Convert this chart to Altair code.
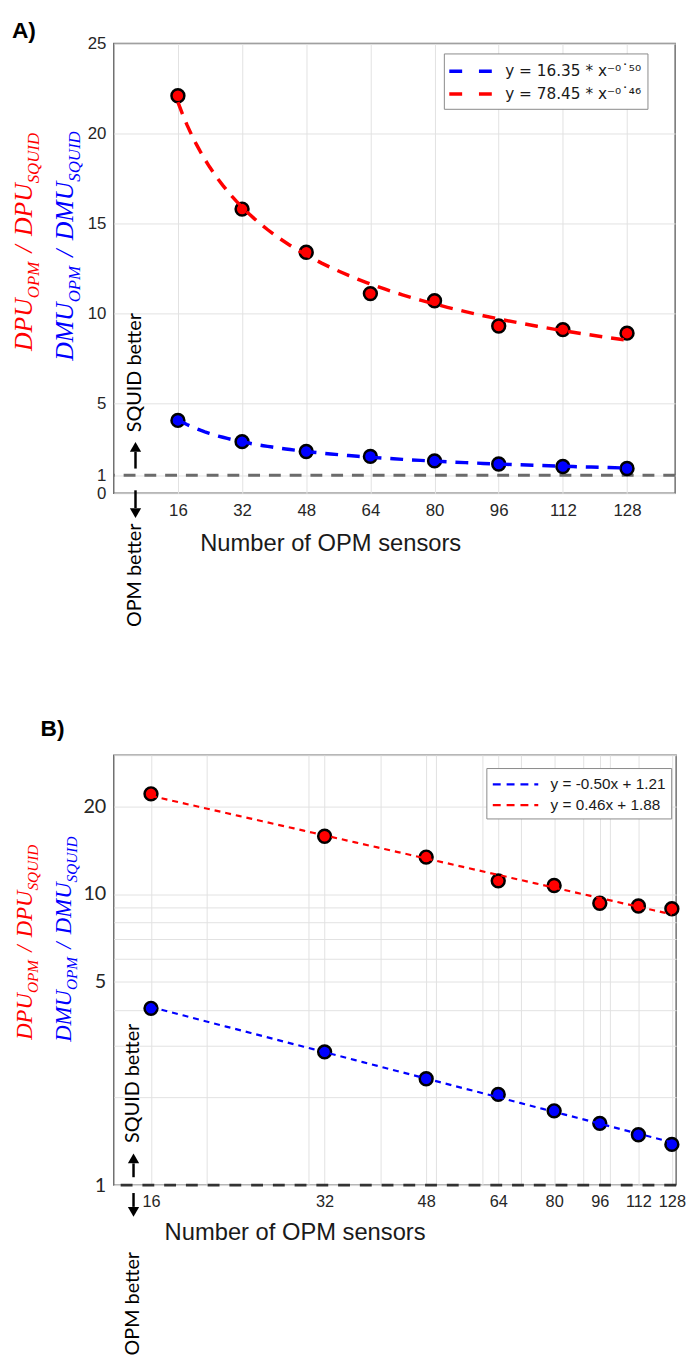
import altair as alt
import pandas as pd

# ---------------- data ----------------
sensors = [16, 32, 48, 64, 80, 96, 112, 128]
dmu_ratio = [4.05, 2.87, 2.32, 2.05, 1.80, 1.63, 1.49, 1.38]
dpu_ratio = [22.1, 15.8, 13.4, 11.1, 10.7, 9.3, 9.1, 8.9]
measures = ["DMU", "DPU"]
fit_labels_a = ["y = 16.35 * x⁻⁰˙⁵⁰", "y = 78.45 * x⁻⁰˙⁴⁶"]
fit_labels_b = ["y = -0.50x + 1.21", "y = 0.46x + 1.88"]
parity_level = 1
y_ticks_a = [0, 1, 5, 10, 15, 20, 25]
y_labels_b = [1, 5, 10, 20]
y_grid_b = [1, 2, 3, 4, 5, 6, 7, 8, 9, 10, 20, 30]
x_grid_b = [16, 20, 30, 32, 40, 48, 50, 60, 64, 70, 80, 90, 96, 100, 112, 128]

rows = []
for m, vals, fa, fb in zip(measures, [dmu_ratio, dpu_ratio], fit_labels_a, fit_labels_b):
    for n, v in zip(sensors, vals):
        rows.append({"n": n, "ratio": v, "measure": m, "fitA": fa, "fitB": fb})
df = pd.DataFrame(rows)

# ---------------- styles ----------------
BLUE, RED = "#0000ff", "#ff0000"
COLORS = [BLUE, RED]
SANS = "Liberation Sans"
ONE = pd.DataFrame({"k": [0]})

TIMES_ITALIC = {"D": 722, "P": 611, "U": 722, "M": 833, "O": 722, "S": 500,
                "Q": 722, "I": 333, "/": 278, " ": 250}


def text_width(s, size):
    return sum(TIMES_ITALIC[c] for c in s) * size / 1000.0


def txt(x, y, s, **kw):
    return alt.Chart(ONE).mark_text(text=s, **kw).encode(x=alt.value(x), y=alt.value(y))


def ratio_title(main, color, xc, y_bottom, M, S):
    gap = 0.36 * M
    pieces = [(main, M, False, 0), ("OPM", S, True, gap), ("/", M, False, gap),
              (main, M, False, 0), ("SQUID", S, True, 0)]
    shift = 0.27 * M
    bx = xc + (0.66 * M - shift) / 2
    out = []
    y = y_bottom
    for s, size, sub, after in pieces:
        out.append(txt(bx + (shift if sub else 0), y, s, font="Liberation Serif",
                       fontStyle="italic", fontSize=size, color=color, angle=270,
                       align="left", baseline="alphabetic"))
        y -= text_width(s, size) + after
    return out


def arrow(x, y_tail, y_tip, up):
    head_h = 10
    shaft_end = y_tip + head_h if up else y_tip - head_h
    shaft = alt.Chart(ONE).mark_rule(color="black", strokeWidth=2.5).encode(
        x=alt.value(x), y=alt.value(y_tail), y2=alt.value(shaft_end))
    head = alt.Chart(ONE).mark_point(shape="triangle-up" if up else "triangle-down",
                                     filled=True, color="black", size=130, opacity=1).encode(
        x=alt.value(x), y=alt.value(y_tip + 5 if up else y_tip - 5))
    return [shaft, head]


def better_notes(x, squid_y, up_tail, up_tip, down_tail, down_tip, opm_y):
    out = [txt(x, squid_y, "SQUID better", font="Lato", fontSize=20, angle=270,
               align="center", baseline="middle", color="black"),
           txt(x, opm_y, "OPM better", font="Lato", fontSize=20, angle=270,
               align="center", baseline="middle", color="black")]
    out += arrow(x, up_tail, up_tip, True)
    out += arrow(x, down_tail, down_tip, False)
    return out


axis_common = dict(grid=True, gridColor="#e2e2e2", gridWidth=1, ticks=False, domain=False,
                   labelColor="#262626", labelOverlap=False, labelFlush=False)

# ---------------- panel A (linear) ----------------
W_A, H_A = 568, 455
xA = alt.Scale(domain=[0, 140], nice=False, zero=False)
yA = alt.Scale(domain=[0, 25], nice=False, zero=False)
x_axis_a = alt.Axis(values=sensors, labelFont=SANS, labelFontSize=17, labelPadding=9,
                    title="Number of OPM sensors", titleFont=SANS, titleFontSize=24,
                    titleFontWeight="normal", titleColor="#1a1a1a", titleX=219, titleY=51,
                    titleAlign="center", titleBaseline="middle", **axis_common)
y_axis_a = alt.Axis(values=y_ticks_a, labelFont=SANS, labelFontSize=17, labelPadding=8,
                    title=None, **axis_common)

legend_a = alt.Legend(title=None, orient="none", legendX=334, legendY=10,
                      symbolType="M-2.15,0H2.15", symbolSize=400, symbolStrokeWidth=3.5,
                      symbolDash=[13, 17], symbolOffset=9, labelFont="DejaVu Sans",
                      labelFontSize=15.5, labelColor="#1a1a1a", labelOffset=23,
                      fillColor="white", strokeColor="#8a8a8a", padding=6, rowPadding=2,
                      labelLimit=400)

parity_a = alt.Chart(ONE).mark_rule(color="#6b6b6b", strokeWidth=3, strokeDash=[12, 9]).encode(
    y=alt.datum(parity_level, scale=yA))

pts_a = alt.Chart(df).mark_circle(size=170, stroke="black", strokeWidth=2.5, opacity=1).encode(
    x=alt.X("n:Q", scale=xA, axis=x_axis_a),
    y=alt.Y("ratio:Q", scale=yA, axis=y_axis_a),
    fill=alt.Fill("measure:N", scale=alt.Scale(domain=measures, range=COLORS), legend=None))

fit_a = alt.Chart(df).transform_regression(
    "n", "ratio", method="pow", groupby=["fitA"], extent=[16, 128]
).mark_line(strokeDash=[13, 9], strokeWidth=3.5).encode(
    x=alt.X("n:Q", scale=xA, axis=x_axis_a),
    y=alt.Y("ratio:Q", scale=yA, axis=y_axis_a),
    stroke=alt.Stroke("fitA:N", scale=alt.Scale(domain=fit_labels_a, range=COLORS), legend=legend_a))

notes_a = [txt(-103, -13, "A)", font=SANS, fontSize=23, fontWeight="bold", align="left",
               baseline="middle", color="black")]
notes_a += ratio_title("DPU", RED, -87.5, 311, 26, 17)
notes_a += ratio_title("DMU", BLUE, -46, 321, 26, 17)
notes_a += better_notes(22, 333, 430, 403, 452, 480, 538)

panel_a = alt.layer(parity_a, pts_a, fit_a, *notes_a).properties(width=W_A, height=H_A)

# ---------------- panel B (log-log) ----------------
W_B, H_B = 569, 435
xB = alt.Scale(type="log", domain=[13.79, 130.2], nice=False)
yB = alt.Scale(type="log", domain=[1, 30], nice=False)
x_label_expr = "indexof([" + ",".join(str(v) for v in sensors) + "], datum.value) >= 0 ? datum.label : ''"
y_label_expr = "indexof([" + ",".join(str(v) for v in y_labels_b) + "], datum.value) >= 0 ? datum.label : ''"
x_axis_b = alt.Axis(values=x_grid_b, labelExpr=x_label_expr, format="d", labelFont=SANS,
                    labelFontSize=16.5, labelPadding=9, title="Number of OPM sensors",
                    titleFont=SANS, titleFontSize=24, titleFontWeight="normal",
                    titleColor="#1a1a1a", titleX=183, titleY=48, titleAlign="center",
                    titleBaseline="middle", **axis_common)
y_axis_b = alt.Axis(values=y_grid_b, labelExpr=y_label_expr, format="d", labelFont="Lato",
                    labelFontSize=20, labelPadding=8, title=None, **axis_common)

legend_b = alt.Legend(title=None, orient="none", legendX=377, legendY=13,
                      symbolType="M-2.3,0H2.3", symbolSize=400, symbolStrokeWidth=2.2,
                      symbolDash=[8, 6], symbolOffset=13, labelFont=SANS, labelFontSize=15.5,
                      labelColor="#1a1a1a", labelOffset=24, fillColor="white",
                      strokeColor="#8a8a8a", padding=5, rowPadding=1, labelLimit=400)

parity_b = alt.Chart(ONE).mark_rule(color="#333333", strokeWidth=3, strokeDash=[12, 10]).encode(
    y=alt.datum(parity_level, scale=yB))

pts_b = alt.Chart(df).mark_circle(size=170, stroke="black", strokeWidth=2.5, opacity=1).encode(
    x=alt.X("n:Q", scale=xB, axis=x_axis_b),
    y=alt.Y("ratio:Q", scale=yB, axis=y_axis_b),
    fill=alt.Fill("measure:N", scale=alt.Scale(domain=measures, range=COLORS), legend=None))

fit_b = alt.Chart(df).transform_regression(
    "n", "ratio", method="pow", groupby=["fitB"], extent=[16, 128]
).mark_line(strokeDash=[6, 5], strokeWidth=2.2).encode(
    x=alt.X("n:Q", scale=xB, axis=x_axis_b),
    y=alt.Y("ratio:Q", scale=yB, axis=y_axis_b),
    stroke=alt.Stroke("fitB:N", scale=alt.Scale(domain=fit_labels_b, range=COLORS), legend=legend_b))

notes_b = [txt(-74, -26, "B)", font=SANS, fontSize=23, fontWeight="bold", align="left",
               baseline="middle", color="black")]
notes_b += ratio_title("DPU", RED, -87.5, 288, 23, 15.5)
notes_b += ratio_title("DMU", BLUE, -47.5, 290, 23, 15.5)
notes_b += better_notes(20, 332, 427, 403, 443, 467, 555)

panel_b = alt.layer(parity_b, pts_b, fit_b, *notes_b).properties(width=W_B, height=H_B)

chart = alt.vconcat(panel_a, panel_b, spacing=265, bounds="flush").resolve_scale(
    x="independent", y="independent", fill="independent", stroke="independent"
).properties(
    padding={"left": 2, "top": 3, "right": 0, "bottom": 0}
).configure_view(stroke="#707070", strokeWidth=1.5)

chart.save("out.html", embed_options={"renderer": "svg", "actions": False})
